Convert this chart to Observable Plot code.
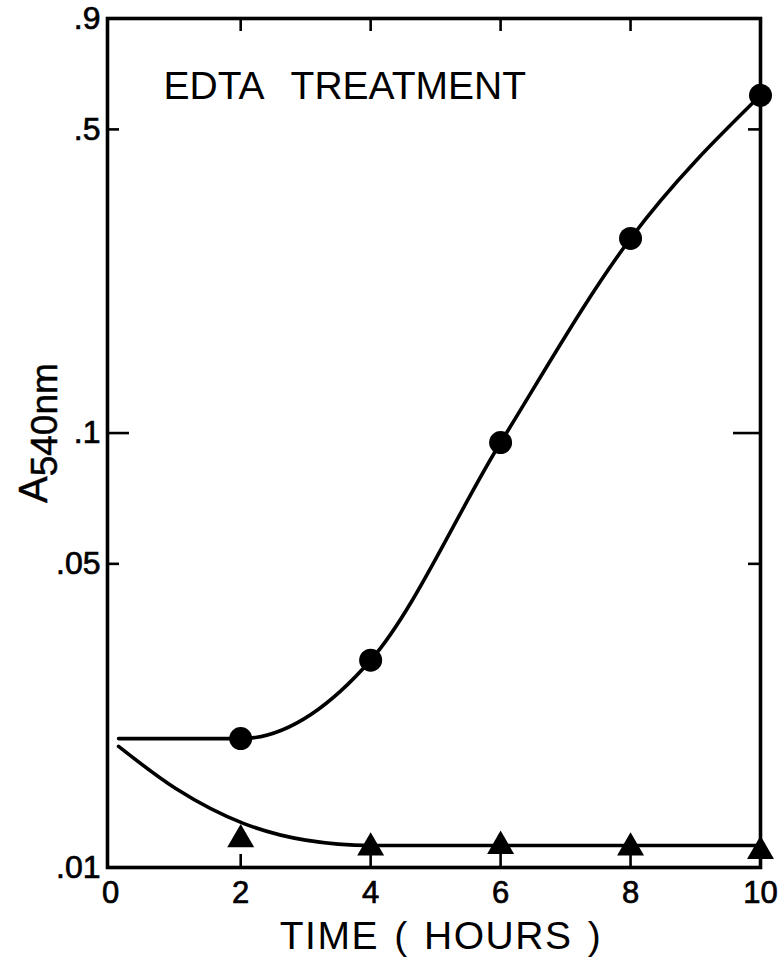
<!DOCTYPE html>
<html><head><meta charset="utf-8">
<script src="https://cdn.jsdelivr.net/npm/d3@7"></script>
<script src="https://cdn.jsdelivr.net/npm/@observablehq/plot@0.6"></script>
<style>body{margin:0;background:#fff}</style>
</head><body><div id="chart"></div>
<script>
// Measured points
const hours = [2, 4, 6, 8, 10];
const edtaCircles = [0.0198, 0.0300, 0.0951, 0.2805, 0.599];
const edtaTriangles = [0.0116, 0.0111, 0.0112, 0.0111, 0.0109];
// Hand-drawn fitted curves
const circleFitX = [0.12, 2, 4, 6, 8, 10];
const circleFitY = [0.0198, 0.0198, 0.0300, 0.0951, 0.2805, 0.599];
const triFitX = [0.12, 1, 2.05, 3, 4, 6, 8, 10];
const triFitY = [0.0190, 0.01520, 0.01262, 0.01156, 0.01124, 0.01124, 0.01124, 0.01124];
// Ticks and labels
const xTickValues = [0, 2, 4, 6, 8, 10];
const yTickValues = [0.9, 0.5, 0.1, 0.05, 0.01];
const xBottomTicks = [2, 4, 6, 8, 10];
const xTopTicks = [2, 4, 6, 8];
const yLongTicks = [0.1];
const yShortTicks = [0.5, 0.05];
const titleText = "EDTA TREATMENT";
const xLabelText = "TIME ( HOURS )";
const yLabelMain = "A";
const yLabelSub = "540nm";

const circles = hours.map((h, i) => ({x: h, y: edtaCircles[i]}));
const triangles = hours.map((h, i) => ({x: h, y: edtaTriangles[i]}));
const circleFit = circleFitX.map((h, i) => ({x: h, y: circleFitY[i]}));
const triFit = triFitX.map((h, i) => ({x: h, y: triFitY[i]}));

const W = 780, H = 967, mL = 107, mR = 20, mT = 18, mB = 100;
const pw = W - mL - mR, ph = H - mT - mB;
const FONT = "'Liberation Sans', Arial, sans-serif";

const plot = Plot.plot({
  width: W, height: H,
  marginLeft: mL, marginRight: mR, marginTop: mT, marginBottom: mB,
  style: {fontFamily: FONT, background: "white", color: "black"},
  x: {domain: [-0.05, 10]},
  y: {type: "log", domain: [0.01, 0.9]},
  marks: [
    Plot.line(circleFit, {x: "x", y: "y", curve: "monotone-x", stroke: "black", strokeWidth: 3.6}),
    Plot.line(triFit, {x: "x", y: "y", curve: "monotone-x", stroke: "black", strokeWidth: 3.6}),
    Plot.dot(circles, {x: "x", y: "y", r: 11.5, fill: "black", symbol: "circle"}),
    Plot.dot(triangles, {x: "x", y: "y", r: 10, fill: "black", symbol: "triangle"}),
    Plot.frame({stroke: "black", strokeWidth: 3.6}),
    Plot.tickX(xBottomTicks, {x: d => d, insetTop: ph - 13, stroke: "black", strokeWidth: 2.6}),
    Plot.tickX(xTopTicks, {x: d => d, insetBottom: ph - 13, stroke: "black", strokeWidth: 2.6}),
    Plot.tickY(yLongTicks, {y: d => d, insetRight: pw - 22, stroke: "black", strokeWidth: 2.6}),
    Plot.tickY(yLongTicks, {y: d => d, insetLeft: pw - 27, stroke: "black", strokeWidth: 2.6}),
    Plot.tickY(yShortTicks, {y: d => d, insetRight: pw - 12, stroke: "black", strokeWidth: 2.6}),
    Plot.tickY(yShortTicks, {y: d => d, insetLeft: pw - 12, stroke: "black", strokeWidth: 2.6}),
    Plot.axisX(xTickValues, {tickSize: 0, tickPadding: 13, fontSize: 31, label: null, className: "xax"}),
    Plot.axisY(yTickValues, {tickSize: 0, tickPadding: 7, fontSize: 32, label: null, className: "yax",
      tickFormat: d => String(d).replace(/^0/, "")}),
    Plot.text([titleText], {frameAnchor: "top-left", dx: 56, dy: 68, textAnchor: "start", lineAnchor: "middle",
      fontSize: 39, fill: "black", className: "ttl"}),
    Plot.text([xLabelText], {frameAnchor: "bottom", dx: 7, dy: 69, lineAnchor: "middle",
      fontSize: 39, fill: "black", className: "xlab"})
  ]
});

const svg = d3.select(plot);
svg.selectAll(".ttl text").style("word-spacing", "18px");
svg.selectAll(".xlab text").style("letter-spacing", "1.5px").style("word-spacing", "3px");
svg.selectAll(".xax text, .yax text").attr("stroke", "black").attr("stroke-width", 0.7);
const yl = svg.append("text")
  .attr("transform", "translate(47,503) rotate(-90)")
  .attr("font-family", FONT)
  .attr("fill", "black")
  .attr("stroke", "black").attr("stroke-width", 0.5)
  .attr("text-anchor", "start");
yl.append("tspan").attr("font-size", 40).text(yLabelMain);
yl.append("tspan").attr("font-size", 37).attr("dy", 10).text(yLabelSub);

document.getElementById("chart").appendChild(plot);
</script>
</body></html>
